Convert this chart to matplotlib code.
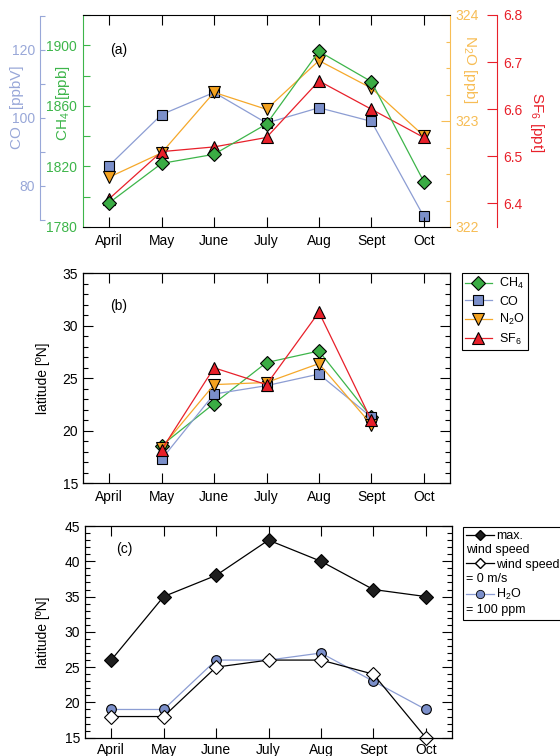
import numpy as np
import matplotlib
matplotlib.use('Agg')
import matplotlib.pyplot as plt
from matplotlib.ticker import MultipleLocator, FixedLocator
from matplotlib.lines import Line2D

plt.rcParams['font.family'] = ['Liberation Sans', 'DejaVu Sans']
plt.rcParams['mathtext.fontset'] = 'custom'
plt.rcParams['mathtext.rm'] = 'Liberation Sans'
plt.rcParams['mathtext.default'] = 'regular'
plt.rcParams['font.size'] = 10

# --- Daten ---
months = ['April', 'May', 'June', 'July', 'Aug', 'Sept', 'Oct']

# (a) Mischungsverhaeltnisse
ch4 = [1796, 1822, 1828, 1848, 1896, 1876, 1810]          # ppb
co = [86, 101, 107.5, 98.5, 103, 99, 71]                  # ppbV
n2o = [322.47, 322.70, 323.27, 323.11, 323.57, 323.31, 322.86]  # ppb
sf6 = [6.41, 6.51, 6.52, 6.54, 6.66, 6.60, 6.54]          # ppt

# (b) Breitengrad der Gradienten
lat_ch4 = [np.nan, 18.6, 22.6, 26.5, 27.6, 21.3, np.nan]
lat_co = [np.nan, 17.3, 23.5, 24.3, 25.4, 21.3, np.nan]
lat_n2o = [np.nan, 18.4, 24.4, 24.6, 26.4, 20.6, np.nan]
lat_sf6 = [np.nan, 18.2, 26.0, 24.4, 31.3, 21.0, np.nan]

# (c) Wind / Wasserdampf
lat_max_wind = [26, 35, 38, 43, 40, 36, 35]
lat_zero_wind = [18, 18, 25, 26, 26, 24, 15]
lat_h2o = [19, 19, 26, 26, 27, 23, 19]

# Farben
green_line, green_fill = '#3db54a', '#3aac44'
blue_line, blue_fill = '#8c9dd3', '#7b8fca'
orange_line, orange_fill = '#f5a82a', '#f4a21f'
red = '#e8202a'
co_axis = '#98a7d8'
n2o_axis = '#f7bd55'

x = np.arange(len(months))
lw = 0.9
mkw = dict(mec='k', mew=0.8)

fig = plt.figure(figsize=(5.6, 7.56), dpi=100)
W = 367 / 560
ax_a = fig.add_axes([83 / 560, 1 - 227 / 756, W, 212 / 756])
ax_b = fig.add_axes([83 / 560, 1 - 483.3 / 756, W, 210 / 756])
ax_c = fig.add_axes([85 / 560, 1 - 737.7 / 756, W, 211.7 / 756])


def month_axis(ax):
    ax.set_xlim(-0.5, 6.5)
    ax.set_xticks(x, months)
    ax.tick_params(axis='x', direction='in', top=True, length=7, width=0.8, pad=5)


# ---------- Panel (a) ----------
ax_co = ax_a.twinx()
ax_n2o = ax_a.twinx()
ax_sf6 = ax_a.twinx()

ax_co.plot(x, co, '-', color=blue_line, lw=lw, marker='s', ms=7.5, mfc=blue_fill, **mkw)
ax_n2o.plot(x, n2o, '-', color=orange_line, lw=lw, marker='v', ms=8.5, mfc=orange_fill, **mkw)
ax_sf6.plot(x, sf6, '-', color=red, lw=lw, marker='^', ms=8.5, mfc=red, **mkw)
ax_a.plot(x, ch4, '-', color=green_line, lw=lw, marker='D', ms=7, mfc=green_fill, **mkw)
ax_a.set_zorder(ax_sf6.get_zorder() + 1)
ax_a.patch.set_visible(False)

month_axis(ax_a)
label_size = 11

# CH4 (linke Achse, gruen)
ax_a.set_ylim(1780, 1920)
ax_a.yaxis.set_major_locator(FixedLocator([1780, 1820, 1860, 1900]))
ax_a.yaxis.set_minor_locator(FixedLocator([1800, 1840, 1880, 1920]))
ax_a.tick_params(axis='y', which='both', direction='in', length=5, width=0.8,
                 color=green_line, labelcolor=green_line, pad=4.3)
ax_a.spines['left'].set_color(green_line)
ax_a.spines['right'].set_visible(False)
# Luecke im Label, in der die Zahl der anderen Achse sitzt (wie im Original)
ax_a.set_ylabel('CH$_4$   [ppb]', color=green_line, fontsize=label_size)

# CO (weiter aussen, blau)
ax_co.set_ylim(67.9, 130.3)
ax_co.yaxis.tick_left()
ax_co.yaxis.set_label_position('left')
for s in ['right', 'top', 'bottom']:
    ax_co.spines[s].set_visible(False)
ax_co.spines['left'].set_position(('axes', -0.117))
ax_co.spines['left'].set_bounds(70, 130)
ax_co.spines['left'].set_color(co_axis)
ax_co.yaxis.set_major_locator(MultipleLocator(20))
ax_co.yaxis.set_minor_locator(MultipleLocator(10))
ax_co.tick_params(axis='y', which='both', direction='in', length=3.6, width=0.8,
                  color=co_axis, labelcolor=co_axis, pad=3.6)
ax_co.set_ylabel('CO    [ppbV]', color=co_axis, fontsize=label_size)

# N2O (rechte Achse, orange)
ax_n2o.set_ylim(322, 324)
for s in ['left', 'top', 'bottom']:
    ax_n2o.spines[s].set_visible(False)
ax_n2o.spines['right'].set_color(n2o_axis)
ax_n2o.yaxis.set_major_locator(MultipleLocator(1))
ax_n2o.yaxis.set_minor_locator(MultipleLocator(0.25))
ax_n2o.tick_params(axis='y', which='major', direction='in', length=6.5, width=0.8,
                   color=n2o_axis, labelcolor=n2o_axis, pad=4)
ax_n2o.tick_params(axis='y', which='minor', direction='in', length=3, width=0.8, color=n2o_axis)
ax_n2o.set_ylabel('N$_2$O [ppb]', color=n2o_axis, rotation=270, fontsize=label_size)

# SF6 (weiter aussen, rot)
ax_sf6.set_ylim(6.35, 6.8)
for s in ['left', 'top', 'bottom']:
    ax_sf6.spines[s].set_visible(False)
ax_sf6.spines['right'].set_position(('axes', 1.128))
ax_sf6.spines['right'].set_color(red)
ax_sf6.set_yticks([6.4, 6.5, 6.6, 6.7, 6.8])
ax_sf6.tick_params(axis='y', direction='in', length=7, width=0.8, color=red,
                   labelcolor=red, pad=4.3)
ax_sf6.set_ylabel('SF$_6$ [ppt]', color=red, rotation=270, fontsize=label_size)

for a, xy in [(ax_co, (-0.18, 0.564)), (ax_a, (-0.0545, 0.585)),
              (ax_n2o, (1.054, 0.745)), (ax_sf6, (1.237, 0.495))]:
    a.yaxis.set_label_coords(*xy)
    a.yaxis.label.set_va('center')
    a.yaxis.label.set_ha('center')

ax_a.text(0.075, 0.835, '(a)', transform=ax_a.transAxes, va='center')

# ---------- Panel (b) ----------
ax_b.plot(x, lat_ch4, '-', color=green_line, lw=lw, marker='D', ms=7, mfc=green_fill, label='CH$_4$', **mkw)
ax_b.plot(x, lat_co, '-', color=blue_line, lw=lw, marker='s', ms=7.5, mfc=blue_fill, label='CO', **mkw)
ax_b.plot(x, lat_n2o, '-', color=orange_line, lw=lw, marker='v', ms=8.5, mfc=orange_fill, label='N$_2$O', **mkw)
ax_b.plot(x, lat_sf6, '-', color=red, lw=lw, marker='^', ms=8.5, mfc=red, label='SF$_6$', **mkw)


def lat_axis(ax, lo, hi):
    month_axis(ax)
    ax.set_ylim(lo, hi)
    ax.yaxis.set_major_locator(MultipleLocator(5))
    ax.yaxis.set_minor_locator(MultipleLocator(1))
    ax.tick_params(axis='y', which='major', direction='in', right=True, length=7.5, width=0.8, pad=3.5)
    ax.tick_params(axis='y', which='minor', direction='in', right=True, length=3.6, width=0.8)
    ax.set_ylabel('latitude [ºN]')
    for s in ax.spines.values():
        s.set_linewidth(0.9)


lat_axis(ax_b, 15, 35)
ax_b.yaxis.set_label_coords(-0.09, 0.5)
ax_b.text(0.075, 0.844, '(b)', transform=ax_b.transAxes, va='center')

ax_b.legend(loc='upper left', bbox_to_anchor=(461.7 / 560, 1 - 273 / 756),
            bbox_transform=fig.transFigure, borderaxespad=0, fontsize=9,
            handlelength=2.15, handletextpad=0.6, borderpad=0.25, labelspacing=0.35,
            fancybox=False, edgecolor='k', framealpha=1).get_frame().set_linewidth(0.8)

# ---------- Panel (c) ----------
ax_c.plot(x, lat_h2o, '-', color=blue_line, lw=lw, marker='o', ms=7, mfc=blue_fill, **mkw)
ax_c.plot(x, lat_zero_wind, '-', color='k', lw=lw, marker='D', ms=7, mfc='white', clip_on=False, **mkw)
ax_c.plot(x, lat_max_wind, '-', color='k', lw=lw, marker='D', ms=7, mfc='#1e1e1e', **mkw)

lat_axis(ax_c, 15, 45)
ax_c.tick_params(axis='x', pad=4)
ax_c.yaxis.set_label_coords(-0.095, 0.5)
ax_c.text(0.086, 0.89, '(c)', transform=ax_c.transAxes, va='center')

# Legende mit zweizeiligen Eintraegen: zwei uebereinander liegende Legenden
blank = Line2D([], [], linestyle='none', marker='none')
h_max = Line2D([], [], color='k', lw=lw, marker='D', ms=5, mfc='#1e1e1e', mec='k')
h_zero = Line2D([], [], color='k', lw=lw, marker='D', ms=5, mfc='white', mec='k')
h_h2o = Line2D([], [], color=blue_line, lw=lw, marker='o', ms=6, mfc=blue_fill, mec='k', mew=0.6)
c_labels = ['max.', 'wind speed', 'wind speed', '= 0 m/s', 'H$_2$O', '= 100 ppm']
leg_kw = dict(loc='upper left', bbox_to_anchor=(462.7 / 560, 1 - 527 / 756),
              bbox_transform=fig.transFigure, borderaxespad=0, fontsize=9,
              borderpad=0.25, labelspacing=0.18, fancybox=False)
leg1 = ax_c.legend([h_max, blank, h_zero, blank, h_h2o, blank], c_labels,
                   handlelength=2.25, handletextpad=0.2, edgecolor='k', framealpha=1,
                   **leg_kw)
leg1.get_frame().set_linewidth(0.8)
for i in (1, 3, 5):
    leg1.get_texts()[i].set_alpha(0)
ax_c.add_artist(leg1)
leg2 = ax_c.legend([blank] * 6, c_labels, handlelength=0, handletextpad=0,
                   frameon=False, **leg_kw)
for i in (0, 2, 4):
    leg2.get_texts()[i].set_alpha(0)

fig.savefig('out.png', dpi=100)
